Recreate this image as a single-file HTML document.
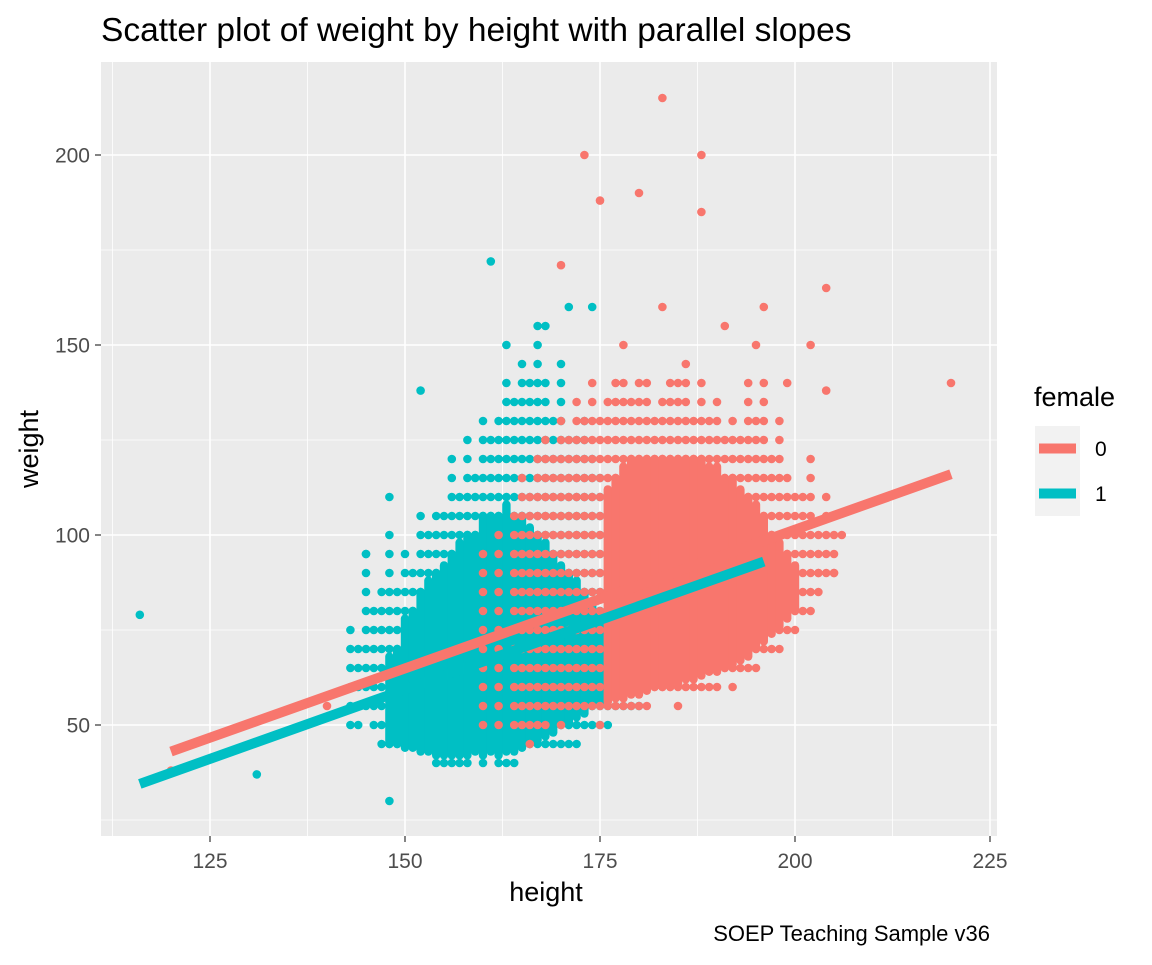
<!DOCTYPE html>
<html><head><meta charset="utf-8">
<style>
body{margin:0;background:#fff;}
svg text{font-family:"Liberation Sans",Arial,sans-serif;}
</style></head>
<body>
<svg id="chart" width="1152" height="960" viewBox="0 0 1152 960" xmlns="http://www.w3.org/2000/svg">
<rect width="1152" height="960" fill="#fff"/>
<text x="101" y="41" font-size="33.5" fill="#000">Scatter plot of weight by height with parallel slopes</text>
<rect x="101" y="62" width="896" height="774" fill="#ebebeb"/>
<g id="grid"></g>
<g id="points"></g>
<g id="lines"></g>
<g id="axes"></g>
<text x="546" y="901" font-size="27" text-anchor="middle" fill="#000">height</text>
<text transform="translate(38,449) rotate(-90)" font-size="27" text-anchor="middle" fill="#000">weight</text>
<g>
<text x="1034" y="406" font-size="27" fill="#000">female</text>
<rect x="1035" y="426" width="45" height="45" fill="#f2f2f2"/>
<line x1="1039" y1="448.5" x2="1076" y2="448.5" stroke="#F8766D" stroke-width="10"/>
<text x="1095" y="456" font-size="21" fill="#000">0</text>
<rect x="1035" y="471" width="45" height="45" fill="#f2f2f2"/>
<line x1="1039" y1="493.5" x2="1076" y2="493.5" stroke="#00BFC4" stroke-width="10"/>
<text x="1095" y="501" font-size="21" fill="#000">1</text>
</g>
<text x="990" y="941" font-size="22" text-anchor="end" fill="#000">SOEP Teaching Sample v36</text>
</svg>
<script>
const xTicks=[125,150,175,200,225];
const yTicks=[50,100,150,200];
const xMinor=[112.5,137.5,162.5,187.5,212.5];
const yMinor=[25,75,125,175,225];
// female=0 (pink): full range per height (sparse), and dense core range
const pinkH=[160,162,164,165,166,167,168,169,170,171,172,173,174,175,176,177,178,179,180,181,182,183,184,185,186,187,188,189,190,191,192,193,194,195,196,197,198,199,200,201,202,203,204,205];
const pinkMin=[48,50,48,50,45,50,50,55,50,55,52,55,52,50,55,55,55,55,55,55,56,58,58,55,58,60,60,60,60,62,60,65,65,65,68,70,70,72,75,80,80,85,88,90];
const pinkMax=[95,100,105,115,110,120,125,120,130,125,135,130,140,130,135,140,140,135,140,142,130,135,140,140,140,130,140,130,135,125,130,125,140,130,140,120,130,115,110,110,120,100,110,100];
const pinkCoreH=[176,177,178,179,180,181,182,183,184,185,186,187,188,189,190,191,192,193,194,195,196,197,198,199,200];
const pinkCoreMin=[56,57,57,58,58,59,60,60,60,61,62,62,63,64,64,65,66,67,68,70,72,74,76,78,80];
const pinkCoreMax=[112,115,118,120,120,120,120,120,120,120,120,120,120,118,118,115,115,112,110,108,105,100,98,95,92];
const pinkOutX=[183,173,188,180,175,188,170,204,183,196,202,204,220,206,203,205,120,140,191,195,178,186,199];
const pinkOutY=[215,200,200,190,188,185,171,165,160,160,150,138,140,100,90,90,38,55,155,150,150,145,140];
// female=1 (cyan)
const cyanH=[143,144,145,146,147,148,149,150,151,152,153,154,155,156,157,158,159,160,161,162,163,164,165,166,167,168,169,170,171,172,173,174,175,176,177,178,179,180,181,182,183,185];
const cyanMin=[47,50,55,50,45,44,45,42,43,42,42,40,40,40,40,40,42,40,42,40,40,40,42,42,44,44,45,45,45,45,47,50,50,50,52,55,55,55,60,65,65,70];
const cyanMax=[75,70,95,80,85,100,88,95,90,109,100,105,107,120,110,125,118,130,128,130,140,135,145,140,155,140,130,145,125,125,130,120,115,110,110,100,95,100,90,88,85,80];
const cyanCoreH=[148,149,150,151,152,153,154,155,156,157,158,159,160,161,162,163,164,165,166,167,168,169,170,171,172,173,174,175];
const cyanCoreMin=[45,45,44,44,43,43,42,42,42,42,42,43,42,43,42,43,43,44,45,46,47,48,50,50,52,53,55,56];
const cyanCoreMax=[68,70,78,80,85,88,90,92,95,98,100,100,105,105,105,108,105,105,102,100,98,95,92,90,88,85,82,80];
const cyanOutX=[116,131,148,161,152,145,171,174,163,168,148];
const cyanOutY=[79,37,30,172,138,95,160,160,150,155,110];
// fitted parallel slopes
const fitPinkX=[120,220], fitPinkY=[43,116];
const fitCyanX=[116,196], fitCyanY=[34.5,93];

const sx=v=>210+(v-125)*7.8;
const sy=v=>725-(v-50)*3.8;
const NS="http://www.w3.org/2000/svg";
function mk(tag,parent,attrs){const e=document.createElementNS(NS,tag);for(const k in attrs)e.setAttribute(k,attrs[k]);parent.appendChild(e);return e;}
const grid=document.getElementById('grid'),pts=document.getElementById('points'),lines=document.getElementById('lines'),axes=document.getElementById('axes');
xMinor.forEach(v=>{const l=mk('line',grid,{x1:sx(v),x2:sx(v),y1:62,y2:836,stroke:'#fff','stroke-width':0.8});

});
yMinor.forEach(v=>{const l=mk('line',grid,{x1:101,x2:997,y1:sy(v),y2:sy(v),stroke:'#fff','stroke-width':0.8});

});
xTicks.forEach(v=>{const l=mk('line',grid,{x1:sx(v),x2:sx(v),y1:62,y2:836,stroke:'#fff','stroke-width':1.6});


const t=mk('line',axes,{x1:sx(v),x2:sx(v),y1:836,y2:842,stroke:'#333','stroke-width':1.2});


const tx=mk('text',axes,{x:sx(v),y:868,'font-size':21,'text-anchor':'middle',fill:'#4d4d4d'});tx.textContent=v;

});
yTicks.forEach(v=>{const l=mk('line',grid,{x1:101,x2:997,y1:sy(v),y2:sy(v),stroke:'#fff','stroke-width':1.6});


const t=mk('line',axes,{x1:95,x2:101,y1:sy(v),y2:sy(v),stroke:'#333','stroke-width':1.2});


const tx=mk('text',axes,{x:90,y:sy(v)+7.5,'font-size':21,'text-anchor':'end',fill:'#4d4d4d'});tx.textContent=v;

});
function sparse(H,Mn,Mx,col,name){H.forEach((h,i)=>{for(let w=Math.ceil(Mn[i]/5)*5;w<=Mx[i];w+=5){
const c=mk('circle',pts,{cx:sx(h),cy:sy(w),r:4.3,fill:col});

}});}
function stripes(H,Mn,Mx,col,name){H.forEach((h,i)=>{const l=mk('line',pts,{x1:sx(h),x2:sx(h),y1:sy(Mn[i]),y2:sy(Mx[i]),stroke:col,'stroke-width':8.4,'stroke-linecap':'round'});

});}
function dots(X,Y,col,name){X.forEach((x,i)=>{const c=mk('circle',pts,{cx:sx(x),cy:sy(Y[i]),r:4.3,fill:col});

});}
sparse(cyanH,cyanMin,cyanMax,'#00BFC4','point-female-1');
stripes(cyanCoreH,cyanCoreMin,cyanCoreMax,'#00BFC4','point-stack-female-1');
dots(cyanOutX,cyanOutY,'#00BFC4','point-female-1');
sparse(pinkH,pinkMin,pinkMax,'#F8766D','point-female-0');
stripes(pinkCoreH,pinkCoreMin,pinkCoreMax,'#F8766D','point-stack-female-0');
dots(pinkOutX,pinkOutY,'#F8766D','point-female-0');
const lp=mk('line',lines,{x1:sx(fitPinkX[0]),y1:sy(fitPinkY[0]),x2:sx(fitPinkX[1]),y2:sy(fitPinkY[1]),stroke:'#F8766D','stroke-width':10});


const lc=mk('line',lines,{x1:sx(fitCyanX[0]),y1:sy(fitCyanY[0]),x2:sx(fitCyanX[1]),y2:sy(fitCyanY[1]),stroke:'#00BFC4','stroke-width':10});


</script>
</body></html>
